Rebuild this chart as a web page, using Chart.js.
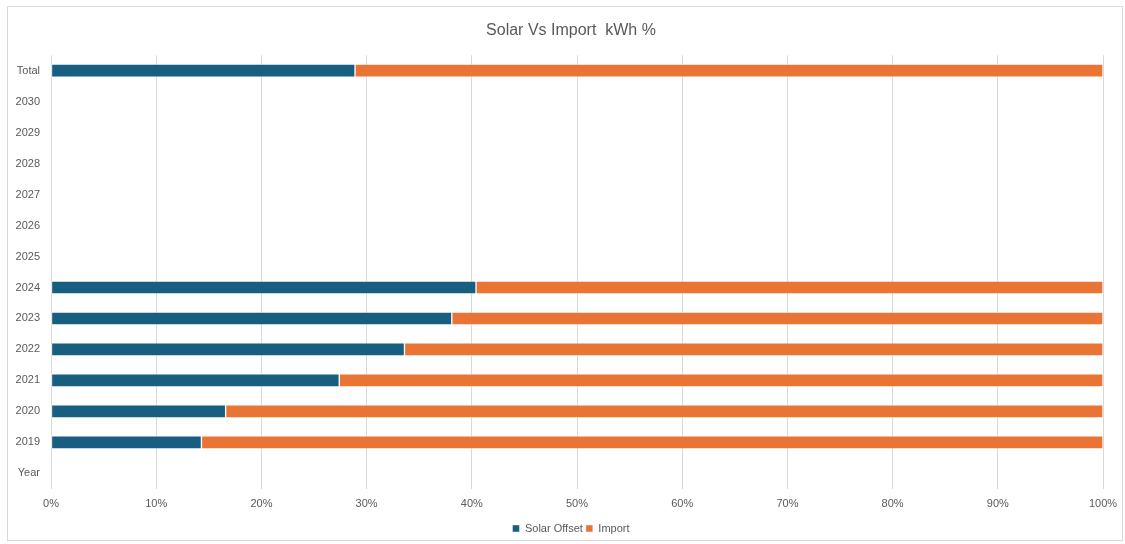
<!DOCTYPE html>
<html>
<head>
<meta charset="utf-8">
<script src="https://cdn.jsdelivr.net/npm/chart.js@4"></script>
<style>
  body { margin: 0; background: #fff; overflow: hidden; }
  #moldura {
    position: absolute; left: 7px; top: 6px;
    width: 1114px; height: 533px;
    border: 1px solid #d9d9d9;
  }
  #caixa {
    position: absolute; left: 8px; top: 7px;
    width: 1126px; height: 537px;
  }
</style>
</head>
<body>
<div id="moldura"></div>
<div id="caixa"><canvas id="grafico"></canvas></div>
<script>
// categorias de cima para baixo
const categorias = ['Total', '2030', '2029', '2028', '2027', '2026', '2025',
  '2024', '2023', '2022', '2021', '2020', '2019', 'Year'];

// % do consumo coberto pelo solar
const solarOffset = [28.9, null, null, null, null, null, null,
  40.4, 38.1, 33.6, 27.4, 16.6, 14.3, null];

// % importado da rede
const importacao = [71.1, null, null, null, null, null, null,
  59.6, 61.9, 66.4, 72.6, 83.4, 85.7, null];

const ticksX = [0, 10, 20, 30, 40, 50, 60, 70, 80, 90, 100];

const cinza = '#595959';
Chart.defaults.font.family = "'Liberation Sans', Arial, sans-serif";
Chart.defaults.color = cinza;

const ctx = document.getElementById('grafico').getContext('2d');
new Chart(ctx, {
  type: 'bar',
  data: {
    labels: categorias,
    datasets: [
      {
        label: 'Solar Offset',
        data: solarOffset,
        backgroundColor: '#175e81',
        borderColor: 'rgba(255,255,255,0.45)',
        borderWidth: 1,
        borderSkipped: false,
        barThickness: 13
      },
      {
        label: 'Import',
        data: importacao,
        backgroundColor: '#ea7434',
        borderColor: 'rgba(255,255,255,0.45)',
        borderWidth: 1,
        borderSkipped: false,
        barThickness: 13
      }
    ]
  },
  options: {
    indexAxis: 'y',
    responsive: true,
    maintainAspectRatio: false,
    animation: false,
    layout: { padding: 0 },
    plugins: {
      title: {
        display: true,
        text: 'Solar Vs Import  kWh %',
        color: cinza,
        font: { size: 16, weight: 'normal' },
        padding: { top: 14, bottom: 15 }
      },
      legend: {
        position: 'bottom',
        labels: {
          boxWidth: 7,
          boxHeight: 7,
          padding: 3,
          font: { size: 11 },
          color: cinza
        }
      },
      tooltip: { enabled: false }
    },
    scales: {
      x: {
        stacked: true,
        min: 0,
        max: 100,
        afterBuildTicks: scale => {
          scale.ticks = ticksX.map(v => ({ value: v }));
        },
        // espaço fixo à direita da área do gráfico
        afterFit: scale => { scale.paddingRight = 31; },
        ticks: {
          padding: 9,
          font: { size: 11 },
          color: cinza,
          callback: v => v + '%'
        },
        grid: { color: '#d9d9d9', lineWidth: 1, drawTicks: false },
        border: { display: false }
      },
      y: {
        stacked: true,
        afterFit: scale => { scale.width = 43; },
        ticks: {
          padding: 11,
          font: { size: 11 },
          color: cinza,
          autoSkip: false
        },
        grid: { display: false, drawTicks: false },
        border: { display: false }
      }
    }
  }
});
</script>
</body>
</html>
